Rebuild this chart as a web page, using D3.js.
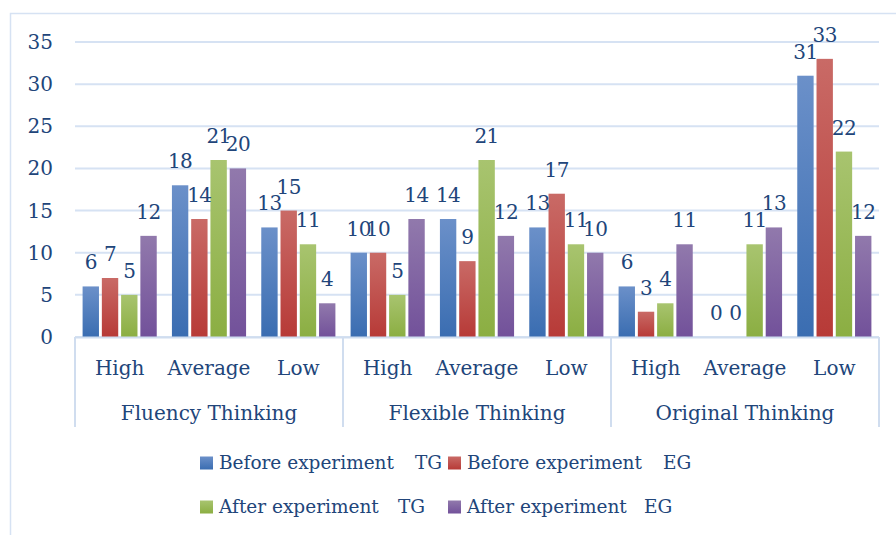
<!DOCTYPE html>
<html>
<head>
<meta charset="utf-8">
<script src="https://cdn.jsdelivr.net/npm/d3@7"></script>
<style>
    body { margin: 0; background: #fff; }
    svg text { font-family: "DejaVu Serif", serif; fill: #21457a; }
</style>
</head>
<body>
<div id="chart"></div>
<script>
// ----------------------------
// Data
// ----------------------------
const groups = ["Fluency Thinking", "Flexible Thinking", "Original Thinking"];
const levels = ["High", "Average", "Low"];
const seriesPhase = ["Before experiment", "Before experiment", "After experiment", "After experiment"];
const seriesGroup = ["TG", "EG", "TG", "EG"];

// one array per series, order: Fluency H/A/L, Flexible H/A/L, Original H/A/L
const beforeTG = [6, 18, 13, 10, 14, 13, 6, 0, 31];
const beforeEG = [7, 14, 15, 10, 9, 17, 3, 0, 33];
const afterTG  = [5, 21, 11, 5, 21, 11, 4, 11, 22];
const afterEG  = [12, 20, 4, 14, 12, 10, 11, 13, 12];
const yTicks = [0, 5, 10, 15, 20, 25, 30, 35];

const seriesValues = [beforeTG, beforeEG, afterTG, afterEG];
const gradTop = ["#6b90c9", "#c96a66", "#a8c46f", "#9179ac"];
const gradBottom = ["#3a6db1", "#b73a37", "#8bae42", "#72519a"];

// build category list (group + level)
const categories = [];
groups.forEach(g => levels.forEach(l => categories.push(g + "|" + l)));

const width = 896;
const height = 535;
const marginLeft = 75;
const plotRight = 879;
const plotTop = 42;
const plotBottom = 337;

const svg = d3.create("svg")
    .attr("width", width)
    .attr("height", height)
    .attr("viewBox", [0, 0, width, height]);

// outer chart border
svg.append("rect")
    .attr("x", 10.5).attr("y", 13.5)
    .attr("width", width).attr("height", height)
    .attr("fill", "none")
    .attr("stroke", "#d6e2f3")
    .attr("stroke-width", 1.5);

// gradients for the bars
const defs = svg.append("defs");
seriesPhase.forEach((s, i) => {
    const g = defs.append("linearGradient")
        .attr("id", "grad" + i)
        .attr("x1", 0).attr("y1", 0).attr("x2", 0).attr("y2", 1);
    g.append("stop").attr("offset", "0%").attr("stop-color", gradTop[i]);
    g.append("stop").attr("offset", "100%").attr("stop-color", gradBottom[i]);
});

// scales
const x0 = d3.scaleBand()
    .domain(categories)
    .range([marginLeft, plotRight])
    .paddingInner(0.17)
    .paddingOuter(0.085);

const x1 = d3.scaleBand()
    .domain(d3.range(seriesPhase.length))
    .range([0, x0.bandwidth()])
    .paddingInner(0.15);

const y = d3.scaleLinear()
    .domain([0, 35])
    .range([plotBottom, plotTop]);

// gridlines + y labels
svg.append("g")
    .selectAll("line")
    .data(yTicks)
    .join("line")
        .attr("x1", marginLeft)
        .attr("x2", plotRight)
        .attr("y1", d => y(d))
        .attr("y2", d => y(d))
        .attr("stroke", "#d6e2f3")
        .attr("stroke-width", 2);

svg.append("g")
    .selectAll("text")
    .data(yTicks)
    .join("text")
        .attr("x", 53)
        .attr("y", d => y(d))
        .attr("dy", "0.35em")
        .attr("text-anchor", "end")
        .style("font-size", "20px")
        .text(d => d);

// bars
const barData = [];
categories.forEach((c, ci) => {
    seriesValues.forEach((vals, si) => {
        barData.push({ cat: c, s: si, value: vals[ci] });
    });
});

svg.append("g")
    .selectAll("rect")
    .data(barData)
    .join("rect")
        .attr("x", d => x0(d.cat) + x1(d.s))
        .attr("y", d => y(d.value))
        .attr("width", x1.bandwidth())
        .attr("height", d => y(0) - y(d.value))
        .attr("fill", d => `url(#grad${d.s})`);

// data labels
svg.append("g")
    .selectAll("text")
    .data(barData)
    .join("text")
        .attr("x", d => x0(d.cat) + x1(d.s) + x1.bandwidth() / 2)
        .attr("y", d => y(d.value) - 17)
        .attr("text-anchor", "middle")
        .style("font-size", "20px")
        .style("letter-spacing", "-0.5px")
        .text(d => d.value);

// multi-level category axis
const axisColor = "#d0ddef";
const step = (plotRight - marginLeft) / categories.length;
svg.append("line")
    .attr("x1", marginLeft).attr("x2", plotRight)
    .attr("y1", plotBottom + 0.5).attr("y2", plotBottom + 0.5)
    .attr("stroke", axisColor).attr("stroke-width", 2);

const groupEdges = d3.range(groups.length + 1).map(i => marginLeft + i * levels.length * step);
svg.append("g")
    .selectAll("line")
    .data(groupEdges)
    .join("line")
        .attr("x1", d => d).attr("x2", d => d)
        .attr("y1", plotBottom).attr("y2", 427)
        .attr("stroke", axisColor).attr("stroke-width", 2);

svg.append("g")
    .selectAll("text")
    .data(categories)
    .join("text")
        .attr("x", d => x0(d) + x0.bandwidth() / 2)
        .attr("y", 375)
        .attr("text-anchor", "middle")
        .style("font-size", "20px")
        .text(d => d.split("|")[1]);

svg.append("g")
    .selectAll("text")
    .data(groups)
    .join("text")
        .attr("x", (d, i) => (groupEdges[i] + groupEdges[i + 1]) / 2)
        .attr("y", 420)
        .attr("text-anchor", "middle")
        .style("font-size", "20px")
        .text(d => d);

// legend (2 x 2)
const legendX = [200, 448];
const legendY = [463, 507];
const groupOffset = [215, 215, 198, 196]; // where "TG"/"EG" starts, relative to marker
const legend = svg.append("g")
    .selectAll("g")
    .data(seriesPhase)
    .join("g")
        .attr("transform", (d, i) => `translate(${legendX[i % 2]},${legendY[Math.floor(i / 2)]})`);

legend.append("rect")
    .attr("x", 0).attr("y", -6.5)
    .attr("width", 13).attr("height", 13)
    .attr("fill", (d, i) => `url(#grad${i})`);

legend.append("text")
    .attr("x", 19)
    .attr("dy", "0.35em")
    .style("font-size", "18.5px")
    .text(d => d);

legend.append("text")
    .attr("x", (d, i) => groupOffset[i])
    .attr("dy", "0.35em")
    .style("font-size", "18.5px")
    .text((d, i) => seriesGroup[i]);

document.getElementById("chart").appendChild(svg.node());
</script>
</body>
</html>
